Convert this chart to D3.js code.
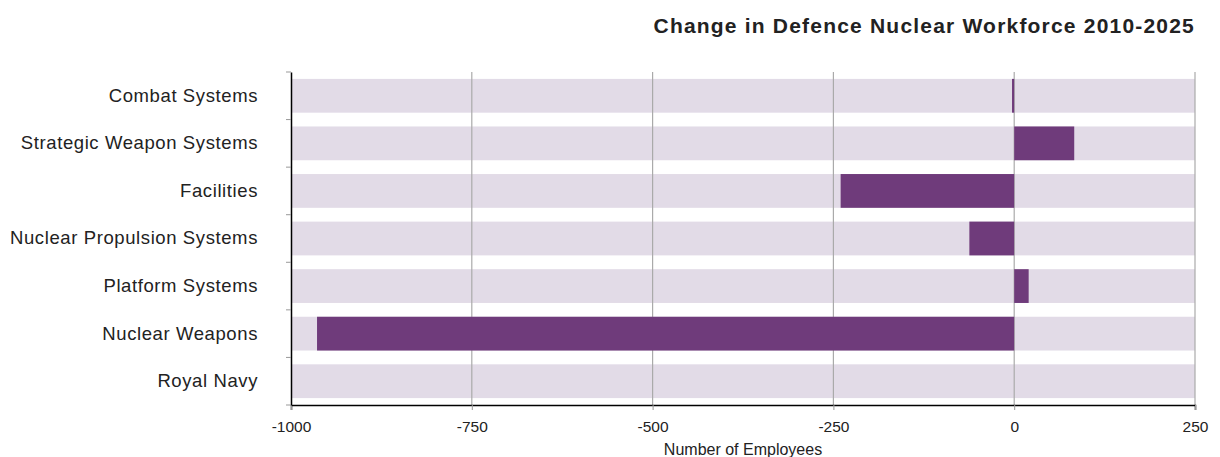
<!DOCTYPE html>
<html>
<head>
<meta charset="utf-8">
<script src="https://cdn.jsdelivr.net/npm/d3@7"></script>
<style>
  body { margin: 0; background: #fff; }
  svg text { font-family: "Liberation Sans", Arial, Helvetica, sans-serif; fill: #222; }
</style>
</head>
<body>
<svg id="chart" width="1220" height="457"></svg>
<script>
// data
var categories = ["Combat Systems", "Strategic Weapon Systems", "Facilities",
    "Nuclear Propulsion Systems", "Platform Systems", "Nuclear Weapons", "Royal Navy"];
var changes = [-3, 83, -240, -62, 20, -964, 0];
var xTicks = [-1000, -750, -500, -250, 0, 250];

var svg = d3.select("#chart"),
    margin = {top: 72, right: 25, bottom: 52, left: 291},
    width = 1220 - margin.left - margin.right,
    height = 457 - margin.top - margin.bottom;

var g = svg.append("g")
    .attr("transform", "translate(" + margin.left + "," + margin.top + ")");

var x = d3.scaleLinear().domain([-1000, 250]).range([0, width]);
var y = d3.scaleBand().domain(categories).range([0, height]).paddingInner(0.29).paddingOuter(0.145);

// background bands
g.selectAll(".bg")
    .data(categories)
    .enter().append("rect")
    .attr("class", "bg")
    .attr("x", x(-1000))
    .attr("width", x(250) - x(-1000))
    .attr("y", function(d) { return y(d); })
    .attr("height", y.bandwidth())
    .attr("fill", "#e2dbe7");

// gridlines
g.selectAll(".grid")
    .data(xTicks.slice(1))
    .enter().append("line")
    .attr("x1", function(d) { return x(d); })
    .attr("x2", function(d) { return x(d); })
    .attr("y1", 0)
    .attr("y2", height)
    .attr("stroke", "#aaa")
    .attr("stroke-width", 1.2);

// value bars
g.selectAll(".bar")
    .data(changes)
    .enter().append("rect")
    .attr("class", "bar")
    .attr("x", function(d) { return x(Math.min(0, d)); })
    .attr("width", function(d) { return Math.abs(x(d) - x(0)); })
    .attr("y", function(d, i) { return y(categories[i]); })
    .attr("height", y.bandwidth())
    .attr("fill", "#6f3b7b");

// x axis
var xAxis = g.append("g")
    .attr("transform", "translate(0," + height + ")")
    .call(d3.axisBottom(x).tickValues(xTicks).tickFormat(function(d) { return String(d); })
        .tickSize(5).tickPadding(11));
xAxis.select(".domain").attr("stroke", "#000").attr("stroke-width", 1.5);
xAxis.selectAll(".tick line").attr("stroke", "#999");
xAxis.selectAll("text").attr("font-size", "15.5px").attr("fill", "#222");

// y axis: ticks sit on band boundaries
var yAxis = g.append("g")
    .call(d3.axisLeft(y).tickSize(0).tickPadding(33));
yAxis.select(".domain").attr("stroke", "#000").attr("stroke-width", 1.5);
yAxis.selectAll("text").attr("font-size", "18.5px").attr("letter-spacing", "0.6px").attr("fill", "#222");

var step = y.step();
g.selectAll(".ytick")
    .data(d3.range(categories.length + 1))
    .enter().append("line")
    .attr("x1", -5).attr("x2", 0)
    .attr("y1", function(i) { return i * step; })
    .attr("y2", function(i) { return i * step; })
    .attr("stroke", "#999");

// axis title
g.append("text")
    .attr("x", width / 2)
    .attr("y", height + 50)
    .attr("text-anchor", "middle")
    .attr("font-size", "16px")
    .text("Number of Employees");

// chart title
svg.append("text")
    .attr("x", margin.left + width)
    .attr("y", 33)
    .attr("text-anchor", "end")
    .attr("font-size", "21px")
    .attr("font-weight", "bold")
    .attr("letter-spacing", "1.2px")
    .text("Change in Defence Nuclear Workforce 2010-2025");
</script>
</body>
</html>
